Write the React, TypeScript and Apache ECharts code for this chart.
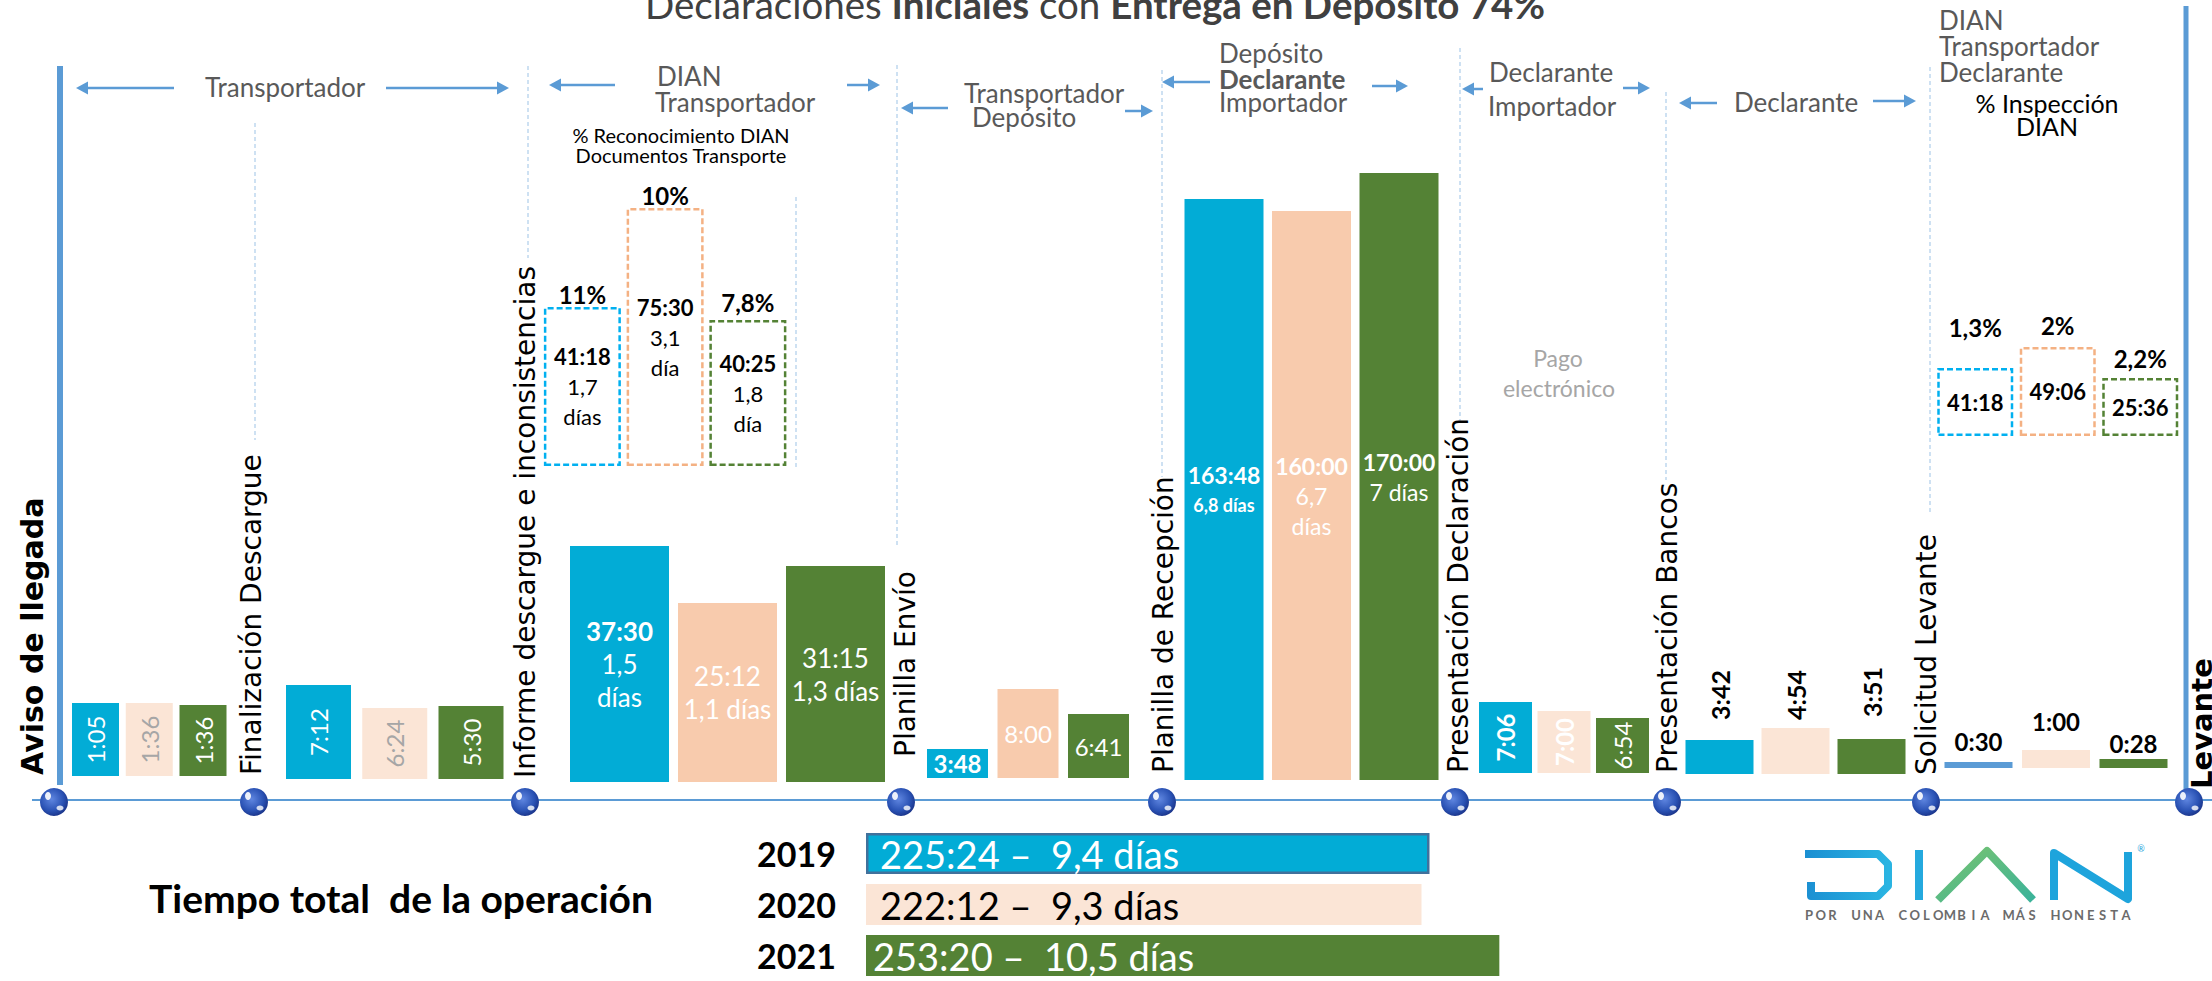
import React, { useEffect, useRef } from 'react';
import * as echarts from 'echarts';

// ---------------- DATA ----------------
const years = ['2019', '2020', '2021'];
const milestones = [
  'Aviso de llegada',
  'Finalización Descargue',
  'Informe descargue e inconsistencias',
  'Planilla Envío',
  'Planilla de Recepción',
  'Presentación Declaración',
  'Presentación Bancos',
  'Solicitud Levante',
  'Levante',
];
const actors = [
  ['Transportador'],
  ['DIAN', 'Transportador'],
  ['Transportador', 'Depósito'],
  ['Depósito', 'Declarante', 'Importador'],
  ['Declarante', 'Importador'],
  ['Declarante'],
  ['DIAN', 'Transportador', 'Declarante'],
];

const time2019 = ['1:05', '7:12', '37:30', '3:48', '163:48', '7:06', '3:42', '0:30'];
const time2020 = ['1:36', '6:24', '25:12', '8:00', '160:00', '7:00', '4:54', '1:00'];
const time2021 = ['1:36', '5:30', '31:15', '6:41', '170:00', '6:54', '3:51', '0:28'];
const days2019 = ['', '', '1,5\ndías', '', '6,8 días', '', '', ''];
const days2020 = ['', '', '1,1 días', '', '6,7\ndías', '', '', ''];
const days2021 = ['', '', '1,3 días', '', '7 días', '', '', ''];
// the infographic is not drawn to scale: bar lengths as drawn
const barLen2019 = [73, 94, 236, 29, 581, 71, 34, 6];
const barLen2020 = [73, 71, 179, 89, 569, 62, 46, 18];
const barLen2021 = [71, 73, 216, 64, 607, 55, 35, 9];

const recoTitle = ['% Reconocimiento DIAN', 'Documentos Transporte'];
const recoTime = ['41:18', '75:30', '40:25'];
const recoDays = ['1,7\ndías', '3,1\ndía', '1,8\ndía'];
const recoPct = ['11%', '10%', '7,8%'];
const recoLen = [159, 258, 146];

const inspTitle = ['% Inspección', 'DIAN'];
const inspTime = ['41:18', '49:06', '25:36'];
const inspPct = ['1,3%', '2%', '2,2%'];
const inspLen = [68, 89, 58];

const payNote = ['Pago', 'electrónico'];
const totalTitle = 'Tiempo total  de la operación';
const totalTime = ['225:24', '222:12', '253:20'];
const totalDays = ['9,4 días', '9,3 días', '10,5 días'];
const chartTitle = ['Declaraciones ', 'Iniciales', ' con ', 'Entrega en Depósito 74%'];
const tagline = 'POR UNA COLOMBIA MÁS HONESTA';

// ---------------- STYLE / LAYOUT ----------------
const LATO = 'Lato, "Open Sans", sans-serif';
const VERD = '"DejaVu Sans", Verdana, sans-serif';
const GRAY = '#595959';
const C_CYAN = '#02acd6';
const C_PEACH = '#f8cbad';
const C_LPEACH = '#fbe5d6';
const C_GREEN = '#548235';
const C_STEEL = '#5b9bd5';

const H = 620;
const groupLayout = [
  { c: 95.5, step: 53.75, bw: 47, base: 776 },
  { c: 318.5, step: 76.25, bw: 65, base: 779 },
  { c: 619.5, step: 108, bw: 99, base: 782 },
  { c: 957.5, step: 70.5, bw: 61, base: 778 },
  { c: 1224, step: 87.5, bw: 79, base: 780 },
  { c: 1505.5, step: 58.5, bw: 53, base: 773 },
  { c: 1719.5, step: 76, bw: 68, base: 774 },
  { c: 1978.5, step: 77.5, bw: 68, base: 768 },
];
const groupStyle: any[] = [
  { colors: [C_CYAN, C_LPEACH, C_GREEN], kind: 'rot', font: 24, tc: ['#fff', '#a6a6a6', '#fff'], bold: [false, false, false] },
  { colors: [C_CYAN, C_LPEACH, C_GREEN], kind: 'rot', font: 24, tc: ['#fff', '#a6a6a6', '#fff'], bold: [false, false, false] },
  { colors: [C_CYAN, C_PEACH, C_GREEN], kind: 'multi', font: 26, lh: 33, bold: [true, false, false] },
  { colors: [C_CYAN, C_PEACH, C_GREEN], kind: 'multi', font: 24, lh: 30, bold: [true, false, false] },
  { colors: [C_CYAN, C_PEACH, C_GREEN], kind: 'multi', font: 23, lh: 30, bold: [true, true, true], dBold: [true, false, false], dFont: [18, 23, 23] },
  { colors: [C_CYAN, C_LPEACH, C_GREEN], kind: 'rot', font: 24, tc: ['#fff', '#fff', '#fff'], bold: [true, true, false] },
  { colors: [C_CYAN, C_LPEACH, C_GREEN], kind: 'rotTop', font: 25, dist: [20, 8, 22] },
  { colors: [C_STEEL, C_LPEACH, C_GREEN], kind: 'top', font: 24, dist: [9, 17, 4] },
];

const milestoneLayout = [
  { x: 32, y: 775, size: 30, bold: true },
  { x: 251, y: 775, size: 28 },
  { x: 525, y: 778, size: 28 },
  { x: 905, y: 757, size: 28 },
  { x: 1163, y: 773, size: 28 },
  { x: 1458, y: 773, size: 28 },
  { x: 1667, y: 773, size: 28 },
  { x: 1926, y: 775, size: 28 },
  { x: 2202, y: 789, size: 29, bold: true },
];
const ballX = [54, 254, 525, 901, 1162, 1455, 1667, 1926, 2189];
const actorLayout: any[] = [
  [{ x: 205, y: 87 }],
  [{ x: 657, y: 76 }, { x: 655, y: 102 }],
  [{ x: 964, y: 93 }, { x: 972, y: 117 }],
  [{ x: 1219, y: 53 }, { x: 1219, y: 79, bold: true }, { x: 1219, y: 102 }],
  [{ x: 1489, y: 72 }, { x: 1488, y: 106 }],
  [{ x: 1734, y: 102 }],
  [{ x: 1939, y: 20 }, { x: 1939, y: 46 }, { x: 1939, y: 72 }],
];
const arrowLayout = [
  [174, 76, 88], [386, 509, 88],
  [615, 549, 85], [847, 880, 85],
  [948, 901, 108], [1125, 1153, 111],
  [1210, 1162, 82], [1372, 1408, 86],
  [1483, 1462, 89], [1623, 1650, 88],
  [1717, 1679, 103], [1873, 1916, 101],
];
const dashLines = [
  [255, 123, 440], [528, 66, 258], [796, 197, 470], [897, 65, 545],
  [1162, 70, 477], [1460, 48, 425], [1666, 92, 480], [1930, 67, 513],
];

const hoursOf = (t: string) => {
  const [h, m] = t.split(':').map(Number);
  return h + m / 60;
};

function txt(x: number, y: number, text: string, o: any = {}) {
  const align = o.align || 'left';
  return {
    type: 'text',
    x,
    y,
    rotation: o.rotation || 0,
    silent: true,
    z: o.z || 5,
    style: {
      text,
      fill: o.color || GRAY,
      fontSize: o.size || 26,
      fontFamily: o.family || LATO,
      fontWeight: o.bold ? 'bold' : 'normal',
      align,
      textAlign: align,
      verticalAlign: 'middle',
      textVerticalAlign: 'middle',
      rich: o.rich,
    },
  };
}

function arrow(x1: number, x2: number, y: number) {
  const dir = Math.sign(x2 - x1);
  const hl = 12;
  const hw = 6.5;
  return [
    { type: 'line', silent: true, shape: { x1, y1: y, x2: x2 - dir * hl, y2: y }, style: { stroke: C_STEEL, lineWidth: 2.5 } },
    { type: 'polygon', silent: true, shape: { points: [[x2, y], [x2 - dir * hl, y - hw], [x2 - dir * hl, y + hw]] }, style: { fill: C_STEEL } },
  ];
}

function buildOption() {
  const grid: any[] = [];
  const xAxis: any[] = [];
  const yAxis: any[] = [];
  const series: any[] = [];
  const times = [time2019, time2020, time2021];
  const days = [days2019, days2020, days2021];
  const lens = [barLen2019, barLen2020, barLen2021];

  groupLayout.forEach((g, s) => {
    grid.push({ left: g.c - g.step / 2, top: g.base - H, width: g.step * 3, height: H });
    xAxis.push({ type: 'category', gridIndex: s, data: years, show: false });
    yAxis.push({ type: 'value', gridIndex: s, min: 0, max: H, show: false });
    const st = groupStyle[s];
    const data = [0, 1, 2].map((k) => {
      const t = times[k][s];
      const d = days[k][s];
      let label: any;
      if (st.kind === 'rot') {
        label = {
          show: true, position: 'inside', rotate: 90, formatter: t, fontFamily: LATO,
          fontSize: st.font, fontWeight: st.bold[k] ? 'bold' : 'normal', color: st.tc[k],
          align: 'center', verticalAlign: 'middle',
        };
      } else if (st.kind === 'multi') {
        const lines = d ? '\n' + d.split('\n').map((l: string) => `{d|${l}}`).join('\n') : '';
        label = {
          show: true, position: 'inside', formatter: `{t|${t}}` + lines,
          rich: {
            t: { fontFamily: LATO, fontSize: st.font, fontWeight: st.bold[k] ? 'bold' : 'normal', color: '#fff', lineHeight: st.lh },
            d: {
              fontFamily: LATO, fontSize: st.dFont ? st.dFont[k] : st.font,
              fontWeight: st.dBold && st.dBold[k] ? 'bold' : 'normal', color: '#fff', lineHeight: st.lh,
            },
          },
        };
      } else if (st.kind === 'rotTop') {
        label = {
          show: true, position: 'top', distance: st.dist[k], rotate: 90, align: 'left', verticalAlign: 'middle',
          formatter: t, fontFamily: LATO, fontSize: st.font, fontWeight: 'bold', color: '#000',
        };
      } else {
        label = {
          show: true, position: 'top', distance: st.dist[k], formatter: t,
          fontFamily: LATO, fontSize: st.font, fontWeight: 'bold', color: '#000',
        };
      }
      return { value: lens[k][s], itemStyle: { color: st.colors[k] }, label };
    });
    series.push({ type: 'bar', xAxisIndex: s, yAxisIndex: s, barWidth: g.bw, silent: true, data });
  });

  const dashColors = ['#00b0f0', '#f4b183', '#548235'];
  const boxRich = {
    t: { fontFamily: LATO, fontSize: 22, fontWeight: 'bold', color: '#000', lineHeight: 30 },
    d: { fontFamily: LATO, fontSize: 22, color: '#000', lineHeight: 30 },
  };
  const boxGrids = [
    { left: 541, base: 466, step: 82.75, bw: 77, lens: recoLen, time: recoTime, days: recoDays, pct: recoPct, dist: [1, 1, 6] },
    { left: 1934, base: 436, step: 82.5, bw: 76, lens: inspLen, time: inspTime, days: ['', '', ''], pct: inspPct, dist: [29, 10, 8] },
  ];
  boxGrids.forEach((b) => {
    const gi = grid.length;
    grid.push({ left: b.left, top: b.base - 300, width: b.step * 3, height: 300 });
    xAxis.push({ type: 'category', gridIndex: gi, data: years, show: false });
    yAxis.push({ type: 'value', gridIndex: gi, min: 0, max: 300, show: false });
    series.push({
      type: 'bar', xAxisIndex: gi, yAxisIndex: gi, barWidth: b.bw, barGap: '-100%', silent: true,
      data: b.lens.map((v, k) => ({
        value: v,
        itemStyle: { color: 'rgba(255,255,255,0)', borderColor: dashColors[k], borderWidth: 2.5, borderType: [6, 3] },
        label: {
          show: true, position: 'inside',
          formatter: `{t|${b.time[k]}}` + (b.days[k] ? '\n' + b.days[k].split('\n').map((l) => `{d|${l}}`).join('\n') : ''),
          rich: boxRich,
        },
      })),
    });
    series.push({
      type: 'bar', xAxisIndex: gi, yAxisIndex: gi, barWidth: b.bw, barGap: '-100%', silent: true,
      itemStyle: { color: 'rgba(255,255,255,0)' },
      data: b.lens.map((v, k) => ({
        value: v,
        label: {
          show: true, position: 'top', distance: b.dist[k], formatter: b.pct[k],
          fontFamily: LATO, fontSize: 24, fontWeight: 'bold', color: '#000',
        },
      })),
    });
  });

  // totals
  const ti = grid.length;
  grid.push({ left: 866, top: 828, width: 650, height: 156 });
  xAxis.push({ type: 'value', gridIndex: ti, min: 0, max: 260, show: false });
  yAxis.push({
    type: 'category', gridIndex: ti, data: years, inverse: true,
    axisLine: { show: false }, axisTick: { show: false },
    axisLabel: { fontFamily: LATO, fontSize: 34, fontWeight: 'bold', color: '#000', margin: 30 },
  });
  const totalColors = [C_CYAN, C_LPEACH, C_GREEN];
  series.push({
    type: 'bar', xAxisIndex: ti, yAxisIndex: ti, barWidth: 41, silent: true,
    data: totalTime.map((t, k) => ({
      value: hoursOf(t),
      itemStyle: k === 0 ? { color: totalColors[k], borderColor: '#41719c', borderWidth: 2.5 } : { color: totalColors[k] },
      label: {
        show: true, position: 'insideLeft', distance: k === 2 ? 7 : 14,
        formatter: `${t} –  ${totalDays[k]}`,
        fontFamily: LATO, fontSize: 38, color: k === 1 ? '#000' : '#fff',
      },
    })),
  });

  // ---------- graphic ----------
  const el: any[] = [];
  // title
  el.push(txt(1095, 4, `{r|${chartTitle[0]}}{b|${chartTitle[1]}}{r|${chartTitle[2]}}{b|${chartTitle[3]}}`, {
    align: 'center',
    rich: {
      r: { fontSize: 38.5, fontFamily: LATO, fill: '#404040' },
      b: { fontSize: 38.5, fontFamily: LATO, fontWeight: 'bold', fill: '#404040' },
    },
  }));
  // dashed separators
  dashLines.forEach(([x, y1, y2]) =>
    el.push({ type: 'line', silent: true, z: 1, shape: { x1: x, y1, x2: x, y2 }, style: { stroke: '#9dc3e6', lineWidth: 1, lineDash: [4, 3] } }));
  // thick side lines
  el.push({ type: 'line', silent: true, z: 1, shape: { x1: 60, y1: 66, x2: 60, y2: 785 }, style: { stroke: C_STEEL, lineWidth: 6 } });
  el.push({ type: 'line', silent: true, z: 1, shape: { x1: 2186, y1: 6, x2: 2186, y2: 790 }, style: { stroke: C_STEEL, lineWidth: 5 } });
  // timeline
  el.push({ type: 'line', silent: true, z: 1, shape: { x1: 32, y1: 800, x2: 2212, y2: 800 }, style: { stroke: C_STEEL, lineWidth: 2 } });
  ballX.forEach((x) => {
    el.push({
      type: 'circle', silent: true, z: 3, shape: { cx: x, cy: 802, r: 14 },
      style: {
        fill: new echarts.graphic.RadialGradient(0.42, 0.4, 0.7, [
          { offset: 0, color: '#5f86e0' }, { offset: 0.6, color: '#2a52b4' }, { offset: 1, color: '#15297a' },
        ]),
      },
    });
    el.push({ type: 'ellipse', silent: true, z: 4, shape: { cx: x - 6, cy: 796, rx: 3, ry: 4 }, style: { fill: 'rgba(255,255,255,0.9)' } });
    el.push({ type: 'ellipse', silent: true, z: 4, shape: { cx: x + 6, cy: 808, rx: 3.5, ry: 2.5 }, style: { fill: 'rgba(255,255,255,0.8)' } });
  });
  // milestone labels
  milestones.forEach((m, i) => {
    const l = milestoneLayout[i];
    el.push(txt(l.x, l.y, m, { rotation: Math.PI / 2, family: VERD, size: l.size, bold: l.bold, color: '#000' }));
  });
  // actors
  actors.forEach((lines, i) => lines.forEach((t, j) => {
    const p = actorLayout[i][j];
    el.push(txt(p.x, p.y, t, { bold: p.bold }));
  }));
  arrowLayout.forEach(([a, b, y]) => el.push(...arrow(a, b, y)));
  // notes
  el.push(txt(681, 135, recoTitle[0], { align: 'center', size: 20, color: '#000' }));
  el.push(txt(681, 155, recoTitle[1], { align: 'center', size: 20, color: '#000' }));
  el.push(txt(2047, 103, inspTitle[0], { align: 'center', size: 25, color: '#000' }));
  el.push(txt(2047, 126, inspTitle[1], { align: 'center', size: 25, color: '#000' }));
  el.push(txt(1558, 358, payNote[0], { align: 'center', size: 23, color: '#a6a6a6' }));
  el.push(txt(1559, 388, payNote[1], { align: 'center', size: 23, color: '#a6a6a6' }));
  el.push(txt(401, 898, totalTitle, { align: 'center', size: 39, bold: true, color: '#000' }));

  // DIAN logo
  const blueGrad = new echarts.graphic.LinearGradient(0, 0, 1, 0, [
    { offset: 0, color: '#1b8fd2' }, { offset: 1, color: '#2ab4e2' },
  ]);
  const greenGrad = new echarts.graphic.LinearGradient(0, 0, 1, 1, [
    { offset: 0, color: '#79c36f' }, { offset: 1, color: '#3bb39a' },
  ]);
  const logoStroke = (points: number[][], stroke: any) => ({
    type: 'polyline', silent: true, z: 5, shape: { points },
    style: { stroke, lineWidth: 8, fill: null, lineJoin: 'round' },
  });
  el.push(logoStroke([[1811, 882], [1811, 896], [1878, 896], [1888, 886], [1888, 864], [1878, 854], [1805, 854]], blueGrad));
  el.push(logoStroke([[1919, 850], [1919, 900]], '#24a9de'));
  el.push(logoStroke([[1938, 900], [1987, 851], [2033, 900]], greenGrad));
  el.push(logoStroke([[2054, 900], [2054, 853], [2128, 899], [2128, 852]], '#1ea4dc'));
  el.push(txt(2141, 848, '®', { align: 'center', size: 9, color: '#1ea4dc' }));
  tagline.split('').forEach((ch, i) => {
    if (ch !== ' ') el.push(txt(1809 + i * 11.74, 915, ch, { align: 'center', size: 13, bold: true, color: '#6b6b6b' }));
  });

  return {
    animation: false,
    backgroundColor: '#ffffff',
    grid,
    xAxis,
    yAxis,
    series,
    graphic: { elements: el },
  };
}

export default function App() {
  const ref = useRef<HTMLDivElement>(null);
  useEffect(() => {
    if (!ref.current) return;
    const chart = echarts.init(ref.current, undefined, { renderer: 'svg' });
    chart.setOption(buildOption() as any);
    return () => chart.dispose();
  }, []);
  return <div ref={ref} style={{ position: 'absolute', left: 0, top: 0, width: 2212, height: 981 }} />;
}
